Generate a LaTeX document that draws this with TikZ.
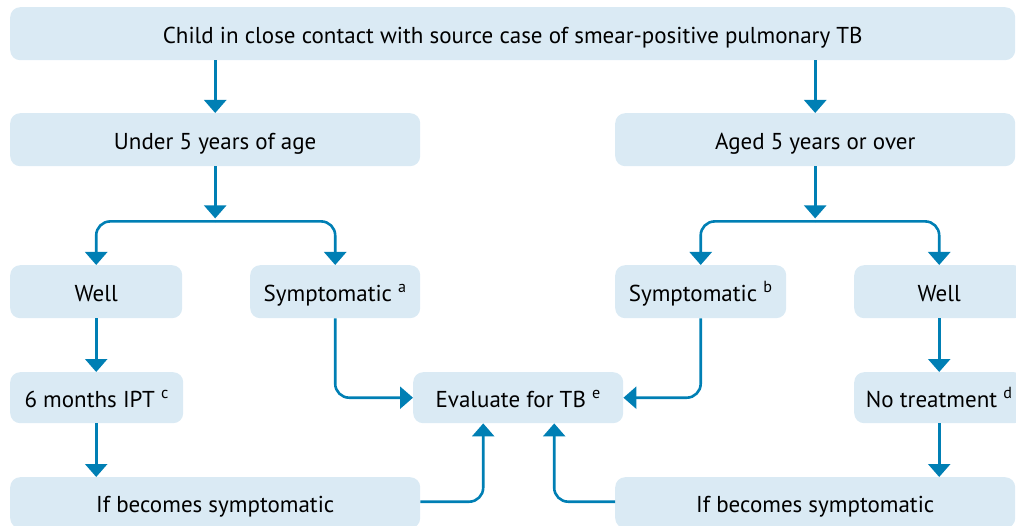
\documentclass[tikz,border=0pt]{standalone}
\usepackage{fontspec}
\setmainfont{PT Sans}
\usetikzlibrary{arrows.meta}
\definecolor{boxfill}{RGB}{218,234,244}
\definecolor{arrowc}{RGB}{0,127,180}
\begin{document}
\begin{tikzpicture}[x=1pt,y=-1pt,
  box/.style={fill=boxfill,rounded corners=10pt,inner sep=0pt,anchor=north west,
    font=\fontsize{23}{26}\selectfont,text=black,text height=20pt,text depth=1pt},
  conn/.style={draw=arrowc,line width=2.6pt,rounded corners=14pt,
    -{Triangle[width=22pt,length=13pt]}}]
\useasboundingbox (0,0) rectangle (1016,526);
\begin{scope}
\clip (0,0) rectangle (1016,526);
\node[box,minimum width=1005pt,minimum height=53pt] (top) at (10,7) {Child in close contact with source case of smear-positive pulmonary TB};
\node[box,minimum width=410pt,minimum height=53pt] (under) at (10,113) {Under 5 years of age};
\node[box,minimum width=400pt,minimum height=53pt] (aged) at (615,113) {Aged 5 years or over};
\node[box,minimum width=172pt,minimum height=53pt] (wellL) at (10,265) {Well};
\node[box,minimum width=170pt,minimum height=53pt] (sa) at (250,265) {Symptomatic \textsuperscript{a}};
\node[box,minimum width=171pt,minimum height=53pt] (sb) at (615,265) {Symptomatic \textsuperscript{b}};
\node[box,minimum width=170pt,minimum height=53pt] (wellR) at (854,265) {Well};
\node[box,minimum width=173pt,minimum height=51pt] (ipt) at (10,372) {6 months IPT \textsuperscript{c}};
\node[box,minimum width=210pt,minimum height=51pt] (eval) at (413,372) {Evaluate for TB \textsuperscript{e}};
\node[box,minimum width=170pt,minimum height=51pt] (notr) at (854,372) {No treatment \textsuperscript{d}};
\node[box,minimum width=410pt,minimum height=51pt] (ifL) at (10,477) {If becomes symptomatic};
\node[box,minimum width=400pt,minimum height=51pt] (ifR) at (615,477) {If becomes symptomatic};

% top to age groups
\draw[conn] (under.north |- top.south) -- (under.north);
\draw[conn] (aged.north |- top.south) -- (aged.north);
% branches
\coordinate (jL) at ([yshift=-55pt]under.south);
\coordinate (jR) at ([yshift=-55pt]aged.south);
\draw[conn,rounded corners=0pt] (under.south) -- ([yshift=3pt]jL);
\draw[conn] (jL) -| (wellL.north);
\draw[conn] (jL) -| (sa.north);
\draw[conn,rounded corners=0pt] (aged.south) -- ([yshift=3pt]jR);
\draw[conn] (jR) -| (sb.north);
\draw[conn] (jR) -| (wellR.north);
% left column
\draw[conn] (wellL.south) -- (ipt.north -| wellL.south);
\draw[conn] (ipt.south -| wellL.south) -- (ifL.north -| wellL.south);
% right column
\draw[conn] (wellR.south) -- (notr.north);
\draw[conn] (notr.south) -- (ifR.north -| notr.south);
% to evaluate
\draw[conn] (sa.south) |- (eval.west);
\draw[conn] (sb.south) |- (eval.east);
\draw[conn] ([yshift=1pt]ifL.east) -| ([xshift=-35pt]eval.south);
\draw[conn] ([yshift=1pt]ifR.west) -| ([xshift=36pt]eval.south);
\end{scope}
\end{tikzpicture}
\end{document}
